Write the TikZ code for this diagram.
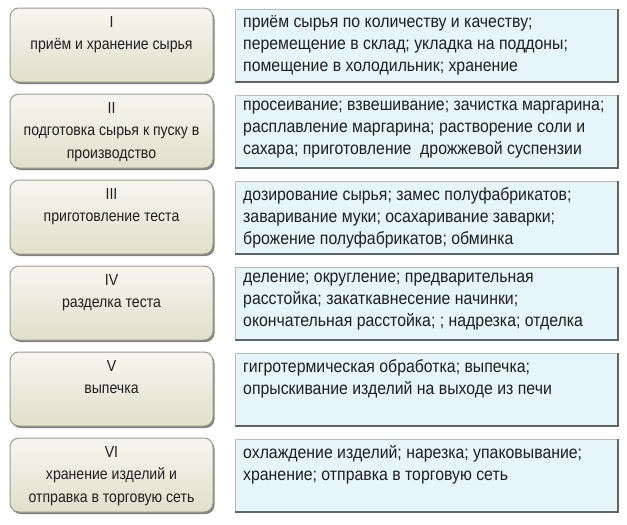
\documentclass[tikz,border=0pt]{standalone}
\usepackage{fontspec}
\setmainfont{Liberation Sans}
\newfontfamily\narrowfont[FakeStretch=0.88]{Liberation Sans}
\newfontfamily\opsfont[FakeStretch=0.9]{Liberation Sans}
\begin{document}
\begin{tikzpicture}[x=1pt,y=-1pt,
  stagebox/.style={rounded corners=9pt, top color=stagetop, bottom color=stagebot, draw=stageedge, line width=1pt},
  stageshadow/.style={rounded corners=9pt, fill=black!50},
  opsbox/.style={fill=opsfill, draw=opsedge, line width=0.8pt},
  opsshade/.style={draw=opsdark, line width=2.2pt},
  stagetext/.style={anchor=north, align=center, font=\narrowfont\fontsize{16}{22.5}\selectfont, inner sep=0pt, text=black!88},
  opstext/.style={anchor=north west, align=left, font=\opsfont\fontsize{17.6}{22}\selectfont, inner sep=0pt, text=black!88}
]
\definecolor{stagetop}{HTML}{F6F6EF}
\definecolor{stagebot}{HTML}{E0E0CC}
\definecolor{stageedge}{HTML}{9A9A8E}
\definecolor{opsfill}{HTML}{E5F5FA}
\definecolor{opsedge}{HTML}{B4BEC2}
\definecolor{opsdark}{HTML}{5E6668}
\useasboundingbox (0,0) rectangle (627,525);
\fill[white] (0,0) rectangle (627,525);

\foreach \top/\num/\lab/\ops [count=\i] in {
  8/I/{приём и хранение сырья}/{приём сырья по количеству и качеству;\\перемещение в склад; укладка на поддоны;\\помещение в холодильник; хранение},
  94/II/{подготовка сырья к пуску в\\производство}/{просеивание; взвешивание; зачистка маргарина;\\расплавление маргарина; растворение соли и\\сахара; приготовление~ дрожжевой суспензии},
  180/III/{приготовление теста}/{дозирование сырья; замес полуфабрикатов;\\заваривание муки; осахаривание заварки;\\брожение полуфабрикатов; обминка},
  266/IV/{разделка теста}/{деление; округление; предварительная\\расстойка; закаткавнесение начинки;\\окончательная расстойка; ; надрезка; отделка},
  352/V/{выпечка}/{гигротермическая обработка; выпечка;\\опрыскивание изделий на выходе из печи},
  438/VI/{хранение изделий и\\отправка в торговую сеть}/{охлаждение изделий; нарезка; упаковывание;\\хранение; отправка в торговую сеть}}
{
  \fill[stageshadow] (11.5,\top+2) rectangle (214.5,\top+76);
  \draw[stagebox] (10,\top) rectangle (213,\top+74) node[pos=0.5] (s\i) {};
  \node[stagetext] (st\i) at (111.5,\top+8) {\num\\\lab};
  \draw[opsbox] (235,\top+1) rectangle (618,\top+73) node[pos=0.5] (o\i) {};
  \draw[opsshade] (618,\top+1) -- (618,\top+74) -- (235,\top+74);
  \node[opstext] (ot\i) at (243,\top+7) {\ops};
}
\end{tikzpicture}
\end{document}
